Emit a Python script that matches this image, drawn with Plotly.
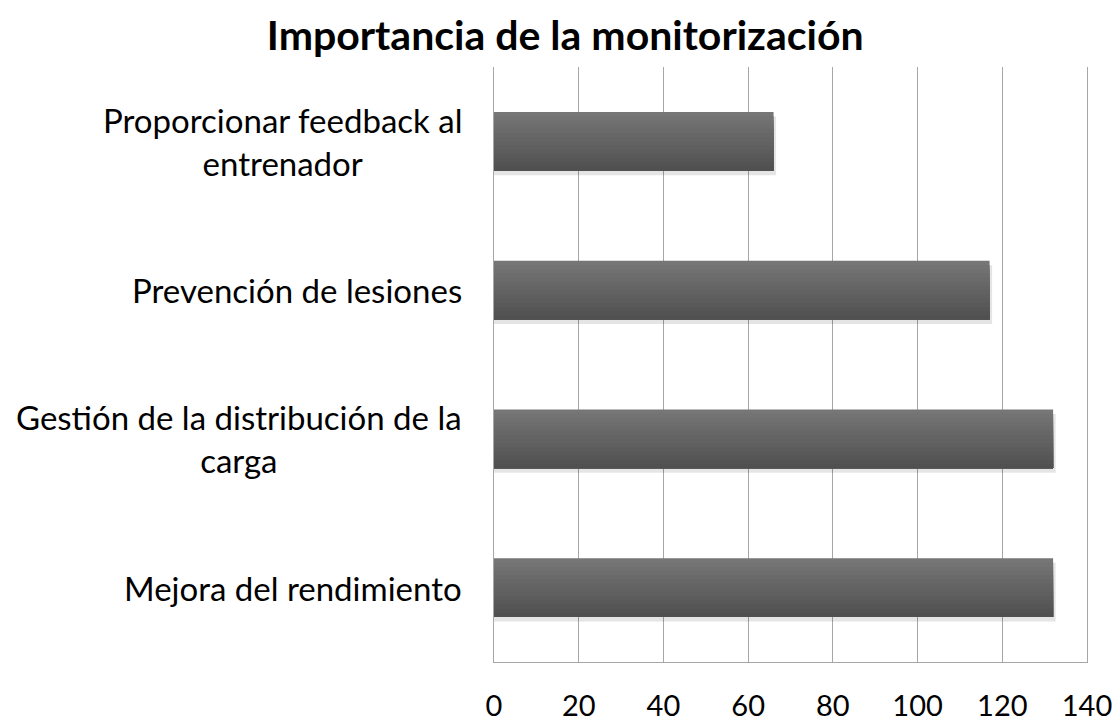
import plotly.graph_objects as go

categories = ["Mejora del rendimiento",
              "Gestión de la distribución de la carga",
              "Prevención de lesiones",
              "Proporcionar feedback al entrenador"]
label_text = ["Mejora del rendimiento",
              "Gestión de la distribución de la<br>carga",
              "Prevención de lesiones",
              "Proporcionar feedback al<br>entrenador"]
values = [132, 132, 117, 66]
x_ticks = [0, 20, 40, 60, 80, 100, 120, 140]

FONT = "Lato"
fig = go.Figure()

ypos = list(range(len(categories)))
bar_w = 0.395
n = 14
top_c = (0x76, 0x76, 0x76)
bot_c = (0x50, 0x50, 0x50)
# soft shadow
fig.add_trace(go.Bar(y=ypos, x=[v + 0.6 for v in values], orientation="h",
                     width=bar_w, offset=-bar_w / 2 - 0.03,
                     marker=dict(color="rgba(0,0,0,0.10)", line=dict(width=0)),
                     hoverinfo="skip", showlegend=False))
# vertical gradient: each strip runs from its top edge down to the bar bottom,
# lighter strips drawn first, darker strips drawn over them
for i in range(n):
    t = i / (n - 1)
    c = tuple(int(round(top_c[k] + (bot_c[k] - top_c[k]) * t)) for k in range(3))
    h = bar_w * (1 - i / n)
    fig.add_trace(go.Bar(y=ypos, x=values, orientation="h",
                         width=h, offset=-bar_w / 2,
                         marker=dict(color="rgb(%d,%d,%d)" % c, line=dict(width=0)),
                         hoverinfo="skip", showlegend=False))

for i, lab in enumerate(label_text):
    fig.add_annotation(x=-0.05, xref="paper", y=i, yref="y", text=lab,
                       showarrow=False, xanchor="right", yanchor="middle",
                       align="center", font=dict(family=FONT, size=33, color="#000000"))

fig.update_layout(
    width=1117, height=722,
    barmode="overlay",
    paper_bgcolor="white", plot_bgcolor="white",
    margin=dict(l=494, r=30, t=67, b=60, autoexpand=False),
    title=dict(text="<b>Importancia de la monitorización</b>", x=0.506, xanchor="center",
               y=0.951, yanchor="middle", font=dict(family=FONT, size=41, color="#000000")),
    xaxis=dict(range=[0, 140], tickvals=x_ticks, showgrid=True, gridcolor="#a6a6a6",
               gridwidth=1, showline=True, linecolor="#a6a6a6", linewidth=1,
               zeroline=False, ticks="", automargin=False, ticklabelstandoff=18,
               tickfont=dict(family=FONT, size=29, color="#000000"),
               fixedrange=True),
    yaxis=dict(range=[-0.5, 3.5], showticklabels=False, showgrid=False, zeroline=False,
               showline=True, linecolor="#a6a6a6", linewidth=1, mirror=True, ticks="",
               automargin=False, fixedrange=True),
    showlegend=False,
)

fig.write_html("out.html", config={"displayModeBar": False},
               post_script="document.body.style.margin='0';document.body.style.overflow='hidden';")
